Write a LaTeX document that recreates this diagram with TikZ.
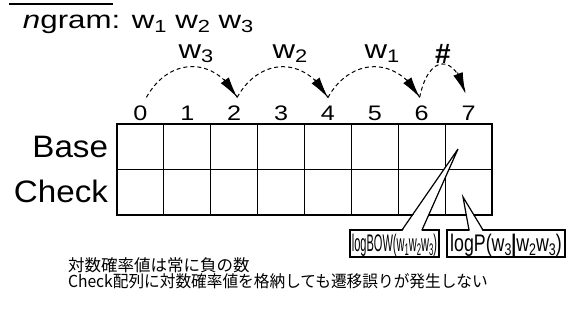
\documentclass[tikz,border=0pt]{standalone}
\usepackage{fontspec}
\setmainfont{Liberation Sans}
\newfontfamily\cjk{Noto Sans CJK JP}
\usepackage{graphicx}
\usetikzlibrary{arrows.meta}
\newcommand\sbs[1]{\raisebox{-0.18em}{\scalebox{0.7}{#1}}}
\newcommand\fs[1]{\fontsize{#1}{#1}\selectfont}
\begin{document}
\begin{tikzpicture}[x=1pt,y=-1pt,
  txt/.style={inner sep=0pt, outer sep=0pt},
  cell/.style={draw, line width=1.2pt, minimum width=46.875pt, minimum height=45.5pt, inner sep=0pt, outer sep=0pt, anchor=north west},
  hop/.style={dash pattern=on 4pt off 3pt, line width=1pt},
  head/.style={solid, line width=1pt, -{Latex[length=21pt,width=10pt]}},
  boxnode/.style={draw, fill=white, line width=1.2pt, minimum height=27pt, inner sep=0pt, outer sep=0pt, anchor=north west},
  pointer/.style={line width=1.2pt}]
\useasboundingbox (0,0) rectangle (567,325);

% title
\draw[line width=2pt] (9,3.5) -- (113,3.5);
\node[txt, anchor=base west] (title) at (23,28) {\fs{25}\scalebox{1.25}[1]{\textit{n}gram: w\sbs1 w\sbs2 w\sbs3}};

% grid
\foreach \i in {0,...,7} {
  \node[cell] (b\i) at ({117+\i*46.875},124) {};
  \node[cell] (c\i) at ({117+\i*46.875},169.5) {};
  \node[txt, anchor=base] (n\i) at ({140.4+\i*46.875},120) {\fs{21}\scalebox{1.2}[1]{\i}};
}
\node[txt, anchor=base east] (base) at (108,157) {\fs{31}\scalebox{1.07}[1]{Base}};
\node[txt, anchor=base east] (check) at (108,202) {\fs{31}\scalebox{1.07}[1]{Check}};

% hops
\coordinate (s0) at ([xshift=6pt,yshift=8pt]n0.north);
\coordinate (s2) at ([xshift=3pt,yshift=8pt]n2.north);
\coordinate (s4) at ([xshift=0pt,yshift=8pt]n4.north);
\coordinate (s6) at ([xshift=-2pt,yshift=8pt]n6.north);
\coordinate (s7) at ([xshift=-3pt,yshift=12pt]n7.north);
\draw[hop] (s0) .. controls +(23,-41) and +(-22,-41) .. (s2);
\draw[hop] (s2) .. controls +(23,-41) and +(-22,-41) .. (s4);
\draw[hop] (s4) .. controls +(23,-41) and +(-22,-41) .. (s6);
\draw[hop] (s6) .. controls +(9,-44) and +(-10,-40) .. (s7);
\draw[head] (s2) ++(-13,-18) -- (s2);
\draw[head] (s4) ++(-13,-18) -- (s4);
\draw[head] (s6) ++(-13,-18) -- (s6);
\draw[head] (s7) ++(-8,-21) -- (s7);

\node[txt, anchor=base] (w3) at (196,58) {\fs{26}\scalebox{1.2}[1]{w\sbs3}};
\node[txt, anchor=base] (w2) at (290,58) {\fs{26}\scalebox{1.2}[1]{w\sbs2}};
\node[txt, anchor=base] (w1) at (382,58) {\fs{26}\scalebox{1.2}[1]{w\sbs1}};
\node[txt, anchor=base] (hash) at (443,63) {\fs{28}\bfseries \#};

% callouts
\node[boxnode, minimum width=89pt] (bow) at (350,230) {};
\node[boxnode, minimum width=118pt] (pbox) at (447,230) {};
\coordinate (bowtip) at (458,149);
\coordinate (ptip) at (463,197);
\fill[white] ([xshift=52.6pt,yshift=-0.8pt]bow.north west) -- (bowtip) -- ([xshift=71.4pt,yshift=-0.8pt]bow.north west) -- cycle;
\draw[pointer] ([xshift=52pt]bow.north west) -- (bowtip) -- ([xshift=72pt]bow.north west);
\fill[white] ([xshift=22.6pt,yshift=-0.8pt]pbox.north west) -- (ptip) -- ([xshift=35.4pt,yshift=-0.8pt]pbox.north west) -- cycle;
\draw[pointer] ([xshift=22pt]pbox.north west) -- (ptip) -- ([xshift=36pt]pbox.north west);
\node[txt, anchor=base] (bowtxt) at ([yshift=6pt]bow.south) {\fs{24}\scalebox{0.46}[1]{logBOW(w\sbs1w\sbs2w\sbs3)}};
\node[txt, anchor=base] (ptxt) at ([yshift=6pt]pbox.south) {\fs{24}\scalebox{0.74}[1]{logP(w\sbs3\textbf{|}w\sbs2w\sbs3)}};

% notes
\node[txt, anchor=base west] (note1) at (68,271) {\cjk\fs{16.5}\scalebox{1.0}[1]{対数確率値は常に負の数}};
\node[txt, anchor=base west] (note2) at (68,287) {\cjk\fs{16.5}\scalebox{0.95}[1]{Check配列に対数確率値を格納しても遷移誤りが発生しない}};
\end{tikzpicture}
\end{document}
